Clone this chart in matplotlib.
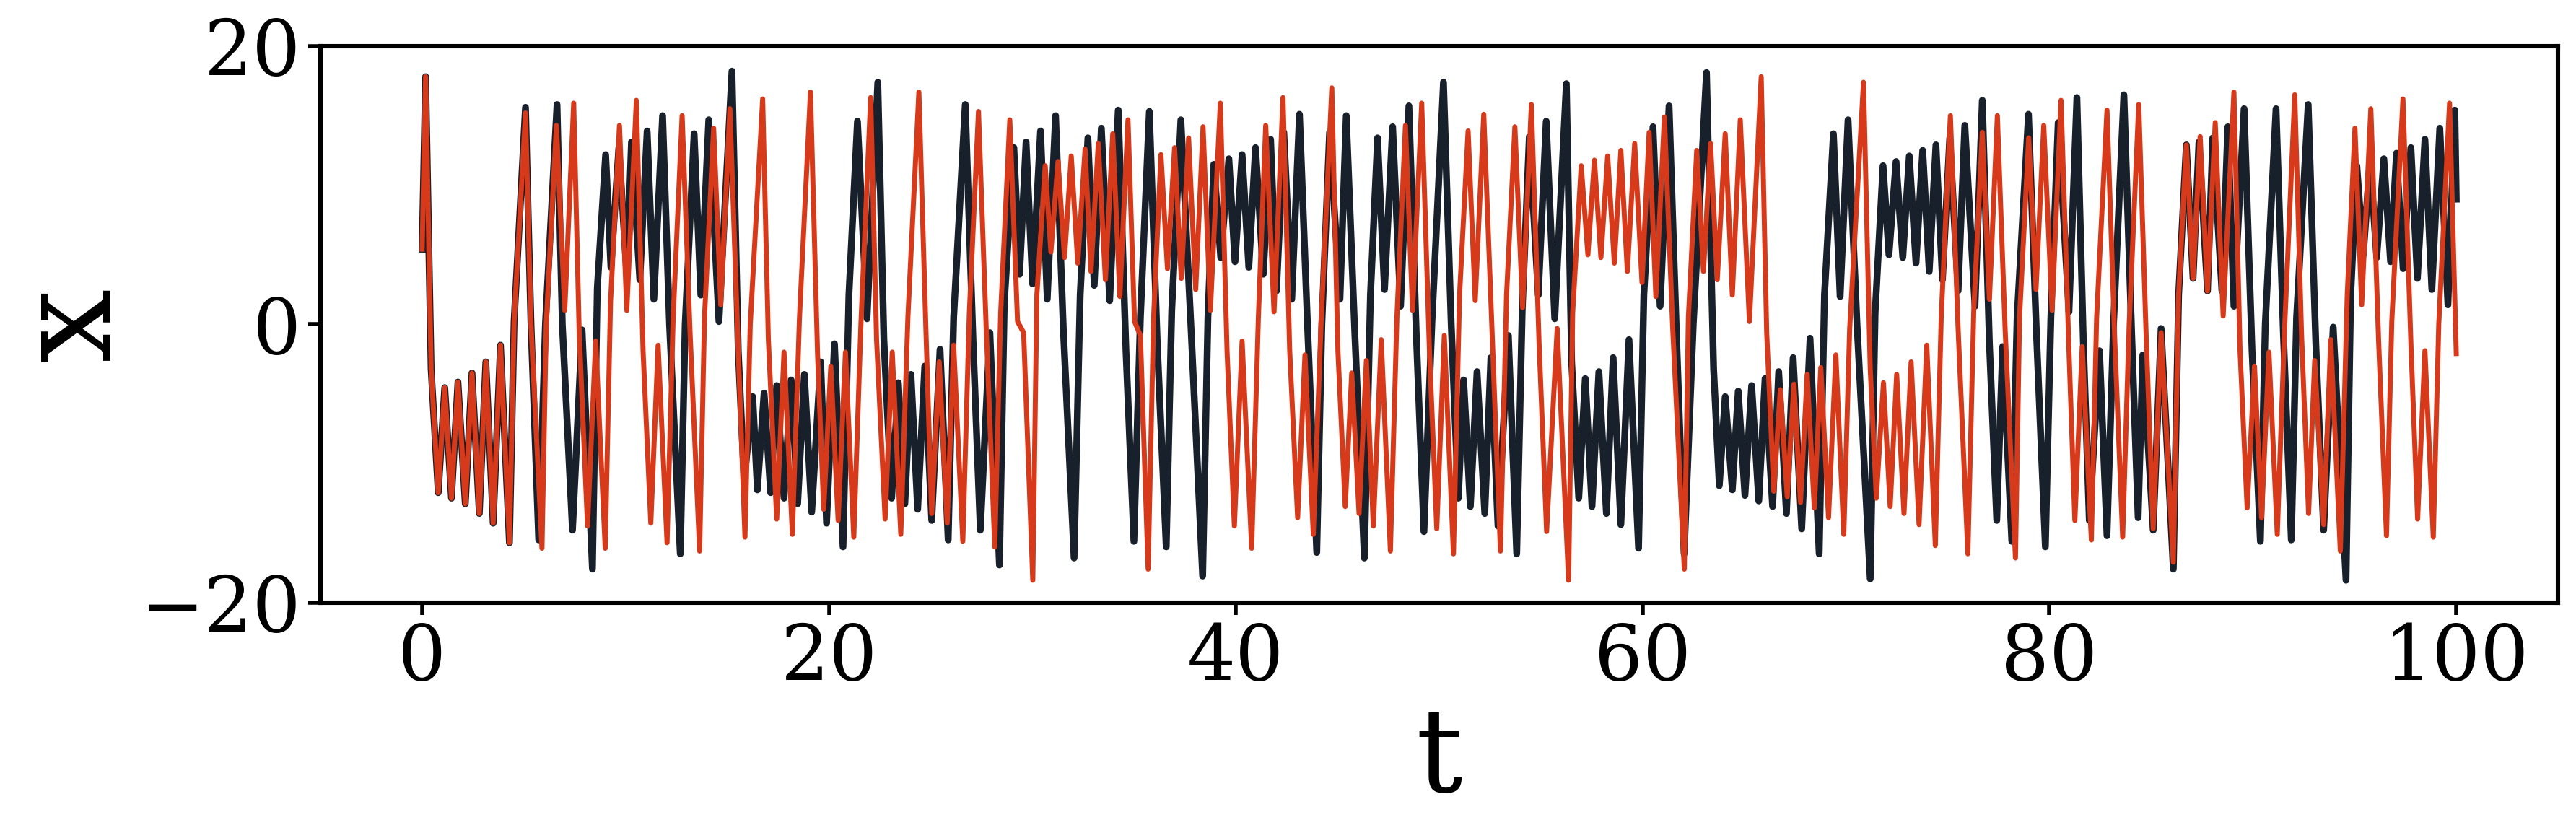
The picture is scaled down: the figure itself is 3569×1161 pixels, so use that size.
"""
Lorenz x(t): reference trajectory vs. model prediction.
Output: out.png
"""
import matplotlib
matplotlib.use("Agg")
import matplotlib.pyplot as plt

# ── Data (extrema and turning points) ───────────────────────────────────────

true_t = [
    0.0, 0.17, 0.44, 0.79, 1.11, 1.44, 1.76, 2.12, 2.45, 2.81, 3.13, 3.49, 3.85, 4.29,
    4.52, 5.08, 5.35, 5.73, 6.06, 6.63, 6.89, 7.39, 7.86, 8.37, 8.61, 9.02, 9.28, 9.67,
    10.06, 10.29, 10.70, 11.06, 11.39, 11.82, 12.16, 12.69, 12.93, 13.37, 13.70, 14.09,
    14.59, 15.23, 15.54, 15.83, 16.25, 16.48, 16.81, 17.13, 17.43, 17.79, 18.14, 18.46,
    18.79, 19.15, 19.59, 19.88, 20.27, 20.69, 20.98, 21.40, 21.87, 22.40, 22.70, 23.08,
    23.41, 23.73, 24.03, 24.36, 24.71, 25.05, 25.46, 25.86, 26.13, 26.70, 27.08, 27.44,
    27.91, 28.38, 28.62, 29.09, 29.37, 29.69, 30.01, 30.40, 30.73, 31.14, 31.52, 32.05,
    32.35, 32.73, 33.04, 33.39, 33.80, 34.22, 34.60, 34.99, 35.31, 35.75, 36.14, 36.58,
    36.85, 37.30, 37.80, 38.37, 38.63, 38.92, 39.26, 39.66, 39.96, 40.31, 40.64, 40.97,
    41.35, 41.71, 42.00, 42.36, 42.75, 43.13, 43.54, 43.98, 44.23, 44.61, 45.12, 45.43,
    45.85, 46.32, 46.62, 46.97, 47.31, 47.71, 48.10, 48.51, 48.87, 49.25, 49.64, 50.21,
    50.59, 50.94, 51.20, 51.53, 51.86, 52.24, 52.54, 52.89, 53.40, 53.81, 54.08, 54.43,
    54.87, 55.26, 55.68, 56.25, 56.51, 56.86, 57.18, 57.51, 57.85, 58.22, 58.55, 58.93,
    59.33, 59.80, 60.06, 60.51, 60.86, 61.30, 61.66, 62.04, 62.49, 63.14, 63.49, 63.77,
    64.06, 64.41, 64.70, 65.03, 65.36, 65.71, 66.02, 66.39, 66.69, 67.07, 67.40, 67.82,
    68.23, 68.68, 68.94, 69.38, 69.71, 70.10, 70.54, 71.19, 71.43, 71.82, 72.11, 72.46,
    72.79, 73.11, 73.44, 73.77, 74.09, 74.42, 74.74, 75.10, 75.51, 75.84, 76.34, 76.70,
    77.05, 77.41, 77.70, 78.15, 78.41, 78.97, 79.36, 79.80, 80.07, 80.43, 80.96, 81.35,
    81.67, 81.96, 82.46, 82.83, 83.15, 83.66, 84.04, 84.36, 84.59, 85.10, 85.49, 86.09,
    86.35, 86.73, 87.06, 87.35, 87.77, 88.03, 88.48, 88.77, 89.07, 89.57, 89.96, 90.37,
    90.61, 91.14, 91.50, 91.89, 92.15, 92.72, 93.10, 93.48, 93.95, 94.58, 94.81, 95.11,
    95.43, 95.76, 96.09, 96.44, 96.77, 97.06, 97.39, 97.77, 98.09, 98.46, 98.80, 99.19,
    99.59, 99.93, 100.0,
]
true_x = [
    5.4, 17.8, -3.2, -12.1, -4.55, -12.5, -4.15, -12.9, -3.5, -13.6, -2.7, -14.3, -1.5, -15.7,
    0.2, 15.6, 0.0, -15.5, 0.0, 15.8, 0.0, -14.8, -0.4, -17.6, 2.6, 12.2, 4.1, 12.7,
    3.6, 13.1, 3.2, 13.9, 1.8, 15.0, 0.0, -16.5, 0.0, 13.7, 2.1, 14.7,
    0.2, 18.2, -1.9, -11.2, -5.2, -11.9, -4.95, -12.1, -4.4, -12.5, -4.0, -12.9,
    -3.6, -13.5, -2.7, -14.3, -1.4, -16.0, 2.1, 14.6, 0.4, 17.4, -1.1, -12.5,
    -4.2, -12.9, -3.6, -13.3, -3.0, -14.1, -1.8, -15.5, 0.5, 15.8, -1.1, -14.8,
    -0.6, -17.3, 1.6, 12.7, 3.6, 13.1, 2.9, 13.9, 1.8, 15.0, -0.3, -16.8,
    2.1, 13.4, 2.8, 14.1, 1.7, 15.4, -1.9, -15.6, 0.5, 15.3, -1.4, -16.0,
    1.0, 14.7, -0.3, -18.1, 0.5, 11.5, 4.8, 11.9, 4.5, 12.2, 4.1, 12.7,
    3.6, 13.3, 2.4, 13.8, 1.8, 15.1, -0.6, -16.4, 0.0, 13.8, 1.8, 15.0,
    -0.6, -16.8, 2.1, 13.4, 2.5, 14.2, 1.3, 15.7, -0.6, -14.9, 0.1, 17.4,
    0.0, -12.5, -4.0, -13.1, -3.4, -13.6, -2.4, -14.5, -0.8, -16.5, 1.0, 13.5,
    2.1, 14.6, 0.4, 17.3, -2.7, -12.5, -3.9, -13.1, -3.4, -13.6, -2.4, -14.4,
    -1.1, -16.1, 2.1, 14.2, 1.3, 15.7, -0.6, -16.5, 0.0, 18.1, -3.2, -11.6,
    -5.2, -11.9, -4.8, -12.3, -4.4, -12.7, -3.9, -13.1, -3.4, -13.6, -2.4, -14.7,
    -1.0, -16.5, 2.1, 13.7, 2.0, 14.7, 0.0, -18.3, 0.8, 11.4, 5.0, 11.7,
    4.8, 12.1, 4.4, 12.5, 3.8, 12.9, 3.2, 13.4, 2.4, 14.3, 1.3, 16.1,
    -1.4, -14.1, -1.6, -15.6, 0.5, 15.1, -0.6, -16.0, 0.5, 14.5, 0.9, 16.3,
    -1.4, -14.1, -1.9, -15.2, 0.0, 16.5, -0.6, -13.9, -2.2, -14.8, -0.3, -17.6,
    2.1, 12.9, 3.3, 13.1, 2.4, 13.4, 2.4, 14.2, 1.3, 15.5, -1.9, -15.6,
    0.0, 15.5, -0.6, -15.5, 0.5, 15.8, -1.6, -14.8, -0.2, -18.4, 2.1, 11.4,
    5.0, 11.8, 4.8, 11.9, 4.5, 12.3, 4.0, 12.7, 3.3, 13.3, 2.5, 14.1,
    1.4, 15.4, 9.0,
]

pred_t = [
    0.0, 0.17, 0.44, 0.79, 1.11, 1.44, 1.76, 2.12, 2.45, 2.81, 3.13, 3.49, 3.85, 4.29,
    4.52, 5.08, 5.35, 5.89, 6.10, 6.60, 7.01, 7.45, 7.72, 8.13, 8.53, 9.00, 9.26, 9.70,
    10.06, 10.53, 10.86, 11.24, 11.60, 12.04, 12.34, 12.78, 13.17, 13.64, 13.88, 14.33,
    14.68, 15.13, 15.54, 15.87, 16.13, 16.74, 17.02, 17.43, 17.79, 18.20, 18.55, 19.09,
    19.44, 19.74, 20.09, 20.45, 20.81, 21.22, 21.57, 22.05, 22.34, 22.76, 23.11, 23.53,
    23.88, 24.42, 24.77, 25.05, 25.42, 25.81, 26.13, 26.58, 26.90, 27.35, 27.73, 28.15,
    28.44, 28.89, 29.27, 29.57, 30.02, 30.22, 30.63, 30.91, 31.26, 31.58, 31.91, 32.23,
    32.59, 32.88, 33.24, 33.59, 33.95, 34.30, 34.70, 35.02, 35.31, 35.69, 35.96, 36.32,
    36.64, 36.99, 37.32, 37.68, 38.03, 38.39, 38.75, 39.24, 39.57, 39.93, 40.31, 40.78,
    41.11, 41.47, 41.88, 42.32, 42.65, 43.04, 43.40, 43.81, 44.19, 44.72, 45.02, 45.38,
    45.70, 46.06, 46.42, 46.76, 47.15, 47.60, 47.92, 48.34, 48.69, 49.14, 49.52, 49.88,
    50.25, 50.70, 51.00, 51.42, 51.77, 52.19, 52.60, 53.01, 53.31, 53.72, 54.10, 54.53,
    54.91, 55.28, 55.80, 56.36, 56.56, 56.98, 57.31, 57.63, 57.95, 58.28, 58.61, 58.93,
    59.25, 59.61, 59.97, 60.32, 60.65, 61.07, 61.48, 62.05, 62.25, 62.66, 62.99, 63.34,
    63.67, 64.06, 64.41, 64.80, 65.25, 65.83, 66.10, 66.45, 66.77, 67.11, 67.44, 67.76,
    68.09, 68.44, 68.76, 69.14, 69.50, 69.89, 70.18, 70.86, 71.19, 71.49, 71.84, 72.17,
    72.49, 72.85, 73.20, 73.59, 73.97, 74.39, 74.68, 75.13, 75.51, 75.99, 76.28, 76.70,
    77.05, 77.44, 77.82, 78.33, 78.53, 78.98, 79.34, 79.72, 80.13, 80.57, 80.96, 81.25,
    81.61, 82.06, 82.32, 82.83, 83.21, 83.60, 83.92, 84.39, 84.75, 85.10, 85.49, 86.09,
    86.35, 86.73, 87.06, 87.41, 87.77, 88.15, 88.54, 89.07, 89.37, 89.72, 90.08, 90.43,
    90.79, 91.20, 91.56, 92.06, 92.39, 92.74, 93.04, 93.48, 93.83, 94.30, 94.64, 95.02,
    95.35, 95.80, 96.18, 96.57, 96.83, 97.38, 97.77, 98.10, 98.46, 98.87, 99.14, 99.67,
    100.0,
]
pred_x = [
    5.4, 17.8, -3.2, -12.1, -4.55, -12.5, -4.15, -12.9, -3.5, -13.6, -2.7, -14.3, -1.5, -15.7,
    0.2, 15.2, 0.0, -16.1, 0.0, 14.3, 1.0, 15.9, -0.6, -14.5, -1.2, -16.1, 1.6, 14.3,
    1.0, 16.1, -1.9, -14.3, -1.5, -15.7, 0.5, 15.0, -0.6, -16.3, 0.5, 14.1,
    1.4, 15.5, -1.9, -15.3, 0.0, 16.2, -1.1, -14.0, -2.0, -15.1, 0.5, 16.7,
    -2.2, -13.3, -3.0, -14.1, -2.0, -15.3, 0.0, 16.3, -1.1, -14.0, -2.0, -15.1,
    0.5, 16.7, -0.6, -13.6, -2.7, -14.3, -1.5, -15.6, 0.8, 15.3, -0.3, -16.0,
    0.8, 14.7, 0.2, -0.6, -18.4, 2.1, 11.4, 5.2, 11.7, 4.8, 12.1, 4.4,
    12.6, 3.8, 13.0, 3.2, 13.7, 2.0, 14.7, 0.2, -0.8, -17.6, 0.5, 12.2,
    4.0, 12.7, 3.3, 13.4, 2.5, 14.2, 1.0, 15.9, -1.9, -14.5, -1.2, -16.1,
    0.5, 14.3, 0.9, 16.3, -1.9, -13.9, -2.2, -15.1, 0.0, 17.0, -1.9, -13.1,
    -3.5, -13.6, -2.6, -14.5, -1.1, -16.3, 0.5, 14.3, 1.0, 15.9, -1.9, -14.7,
    -0.8, -16.5, 2.1, 13.9, 1.7, 15.1, -0.6, -16.3, 2.1, 14.2, 1.2, 15.8,
    -1.4, -14.9, -0.3, -18.4, 0.8, 11.4, 5.0, 11.8, 4.8, 12.1, 4.4, 12.5,
    3.8, 13.0, 3.0, 13.8, 2.0, 14.9, -0.3, -17.6, 0.5, 12.5, 3.8, 13.0,
    3.2, 13.7, 2.1, 14.7, 0.2, 17.8, -0.6, -12.0, -4.7, -12.4, -4.3, -12.8,
    -3.6, -13.2, -3.1, -13.9, -2.2, -15.1, -0.3, 17.4, -3.2, -12.5, -4.2, -13.1,
    -3.6, -13.6, -2.7, -14.4, -1.5, -15.9, 0.5, 15.0, -0.3, -16.5, 1.0, 13.8,
    1.8, 15.0, -0.3, -16.8, 0.5, 13.4, 2.5, 14.3, 1.0, 16.1, -1.9, -14.1,
    -1.6, -15.5, 0.5, 15.4, -1.1, -15.3, 0.0, 15.8, -0.6, -14.7, -0.6, -17.1,
    2.1, 12.9, 3.3, 13.5, 2.4, 14.5, 0.6, 16.7, -1.9, -13.2, -3.0, -13.9,
    -2.0, -15.1, -0.3, 16.5, -0.6, -13.6, -2.6, -14.4, -1.1, -16.3, 2.1, 14.1,
    1.4, 15.5, -1.1, -15.2, 0.2, 16.2, -1.4, -14.0, -1.9, -15.3, 0.0, 15.9,
    -2.1,
]

X_TICKS = [0, 20, 40, 60, 80, 100]
Y_TICKS = [-20, 0, 20]

TRUE_COLOR = "#17202b"
PRED_COLOR = "#d63a1b"


def main():
    plt.rcParams["font.family"] = ["DejaVu Serif"]
    plt.rcParams["axes.unicode_minus"] = True

    fig = plt.figure(figsize=(17.845, 5.805), dpi=200)
    ax = fig.add_axes([0.1244, 0.281, 0.8686, 0.664])

    ax.plot(true_t, true_x, color=TRUE_COLOR, linewidth=3.4, zorder=2,
            solid_joinstyle="round")
    ax.plot(pred_t, pred_x, color=PRED_COLOR, linewidth=2.5, zorder=3,
            solid_joinstyle="round")

    ax.set_xlim(-5, 105)
    ax.set_ylim(-20, 20)
    ax.set_xticks(X_TICKS)
    ax.set_yticks(Y_TICKS)
    ax.tick_params(labelsize=38, width=2.0, length=6)

    for s in ax.spines.values():
        s.set_linewidth(2.2)

    ax.set_xlabel("t", fontsize=58, labelpad=4)
    ax.set_ylabel("x", fontsize=66, labelpad=2)

    fig.savefig("out.png", dpi=200)


if __name__ == "__main__":
    main()
